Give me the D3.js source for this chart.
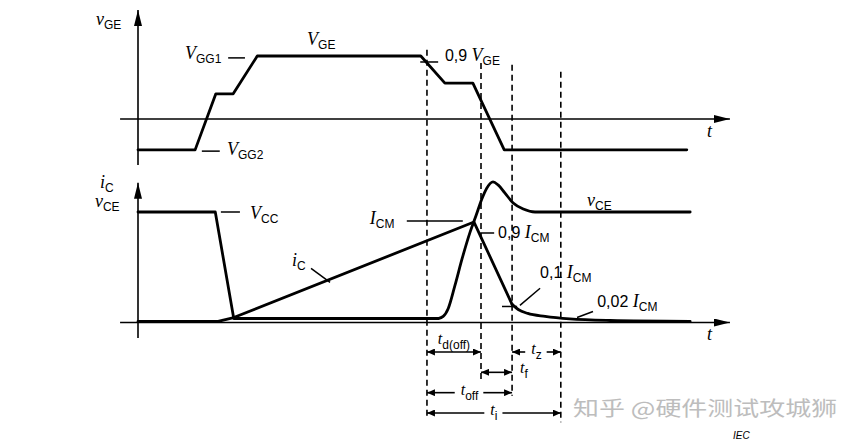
<!DOCTYPE html>
<html>
<head>
<meta charset="utf-8">
<script src="https://cdn.jsdelivr.net/npm/d3@7"></script>
<style>
  html, body { margin: 0; padding: 0; background: #fff; }
  svg { display: block; }
</style>
</head>
<body>
<div id="chart"></div>
<script>
// gate voltage v_GE (top panel), time in arbitrary units, value relative to V_GG1
const vgeTime  = [0, 10.2, 13.9, 17.0, 21.3, 50.5, 54.8, 59.8, 65.4, 98.0];
const vgeValue = [-0.49, -0.49, 0.40, 0.40, 1, 1, 0.57, 0.57, -0.49, -0.49];

// collector-emitter voltage v_CE (bottom panel), relative to V_CC
const vceFallTime  = [0, 13.8, 17.1, 53.6];
const vceFallValue = [1, 1, 0.036, 0.036];
const vceRiseTime  = [53.6, 54.5, 55.4, 56.6, 57.9, 59.3, 60.4, 61.4, 62.3, 63.4, 64.3, 65.5, 67.0, 68.8, 70.9, 98.6];
const vceRiseValue = [0.036, 0.055, 0.127, 0.336, 0.582, 0.818, 0.973, 1.118, 1.218, 1.273, 1.245, 1.173, 1.082, 1.027, 1.0, 1.0];

// collector current i_C
const icRampTime  = [0, 14.3, 17.1, 60.0, 66.8];
const icRampValue = [0.01, 0.01, 0.045, 0.909, 0.164];
const icTailTime  = [66.8, 67.9, 69.6, 72.7, 77.1, 84.3, 98.6];
const icTailValue = [0.164, 0.118, 0.082, 0.055, 0.032, 0.018, 0.01];

// switching instants (dashed verticals): top end in v_GE units, bottom end in timing rows
const edgeTime   = [51.6, 61.25, 66.8, 75.5];
const edgeTop    = [1.1, 0.89, 0.86, 0.75];
const edgeBottom = [3.3, 1.5, 2.15, 3.45];

// timing intervals: from edge, to edge, row, subscript, label placement
const spanFrom  = [0, 2, 1, 0, 0];
const spanTo    = [1, 3, 2, 2, 3];
const spanRow   = [0, 0, 1, 2, 3];
const spanSub   = ['d(off)', 'z', 'f', 'off', 'i'];
const spanPlace = ['above', 'gap', 'right', 'gap', 'gap'];

// labels: panel, time, value, numeric prefix, symbol, subscript
const labelPanel = ['top', 'top', 'top', 'top', 'top', 'top',
                    'bot', 'bot', 'bot', 'bot', 'bot', 'bot', 'bot', 'bot', 'bot', 'bot'];
const labelTime  = [-7.5, 30.2, 8.4, 15.9, 54.8, 101.6,
                    -6.8, -7.7, 20.0, 41.4, 27.5, 64.3, 80.2, 71.8, 82.0, 101.6];
const labelValue = [1.49, 1.17, 0.95, -0.57, 0.92, -0.29,
                    1.22, 1.045, 0.936, 0.89, 0.51, 0.764, 1.055, 0.40, 0.136, -0.16];
const labelPre   = ['', '', '', '', '0,9 ', '',
                    '', '', '', '', '', '0,9 ', '', '0,1 ', '0,02 ', ''];
const labelSym   = ['v', 'V', 'V', 'V', 'V', 't',
                    'i', 'v', 'V', 'I', 'i', 'I', 'v', 'I', 'I', 't'];
const labelSub   = ['GE', 'GE', 'GG1', 'GG2', 'GE', '',
                    'C', 'CE', 'CC', 'CM', 'C', 'CM', 'CE', 'CM', 'CM', ''];

// leader lines: panel, start (time, value), end (time, value)
const leadPanel = ['top', 'top', 'top', 'bot', 'bot', 'bot', 'bot', 'bot', 'bot'];
const leadT1 = [16.1, 11.4, 50.4, 14.8, 48.0, 30.9, 61.1, 68.2, 78.4];
const leadV1 = [0.97, -0.51, 0.905, 1.0, 0.918, 0.49, 0.81, 0.155, 0.045];
const leadT2 = [19.1, 14.6, 53.6, 18.2, 58.0, 34.3, 63.6, 71.8, 81.25];
const leadV2 = [0.97, -0.51, 0.905, 1.0, 0.918, 0.364, 0.81, 0.31, 0.10];
const tickT1 = [65.0], tickT2 = [67.7], tickV = [0.145];

const width = 854, height = 448;
const svg = d3.select('#chart').append('svg')
    .attr('width', width)
    .attr('height', height);

let xT = d3.scaleLinear().domain([0, 100]).range([138, 698]);
let yTop = d3.scaleLinear().domain([0, 1]).range([119, 56]);
let yBot = d3.scaleLinear().domain([0, 1]).range([322.5, 212]);
let yRow = d3.scaleLinear().domain([0, 3]).range([352, 413]);
const yOf = p => p === 'top' ? yTop : yBot;

const SERIF = '"Liberation Serif", "DejaVu Serif", serif';
const SANS = '"Liberation Sans", Arial, sans-serif';

let defs = svg.append('defs');
defs.append('marker')
    .attr('id', 'axisArrow')
    .attr('viewBox', '0 0 16 8')
    .attr('refX', 16).attr('refY', 4)
    .attr('markerWidth', 16).attr('markerHeight', 8)
    .attr('markerUnits', 'userSpaceOnUse')
    .attr('orient', 'auto')
    .append('path').attr('d', 'M0,0L16,4L0,8Z').attr('fill', '#000');
defs.append('marker')
    .attr('id', 'dimArrow')
    .attr('viewBox', '0 0 8 7')
    .attr('refX', 8).attr('refY', 3.5)
    .attr('markerWidth', 8).attr('markerHeight', 7)
    .attr('markerUnits', 'userSpaceOnUse')
    .attr('orient', 'auto-start-reverse')
    .append('path').attr('d', 'M0,0L8,3.5L0,7Z').attr('fill', '#000');

// watermark sits behind everything
svg.append('text')
    .attr('x', xT(77.7))
    .attr('y', yRow(3.15))
    .attr('font-family', '"Noto Sans CJK SC", sans-serif')
    .attr('font-size', 20)
    .attr('textLength', 264)
    .attr('lengthAdjust', 'spacingAndGlyphs')
    .attr('fill', '#bdbdbd')
    .text('知乎 @硬件测试攻城狮');

// axes
function axisPair(yScale, vMin, vMax) {
    svg.append('line')
        .attr('x1', xT(-3.2)).attr('x2', xT(105.7))
        .attr('y1', yScale(0)).attr('y2', yScale(0))
        .attr('stroke', '#000').attr('stroke-width', 1.6)
        .attr('marker-end', 'url(#axisArrow)');
    svg.append('line')
        .attr('x1', xT(0)).attr('x2', xT(0))
        .attr('y1', yScale(vMin)).attr('y2', yScale(vMax))
        .attr('stroke', '#000').attr('stroke-width', 1.6)
        .attr('marker-end', 'url(#axisArrow)');
}
axisPair(yTop, -0.73, 1.73);
axisPair(yBot, -0.14, 1.264);

// dashed switching instants
svg.append('g').selectAll('line')
    .data(edgeTime)
    .enter()
    .append('line')
    .attr('x1', d => xT(d)).attr('x2', d => xT(d))
    .attr('y1', (d, i) => yTop(edgeTop[i]))
    .attr('y2', (d, i) => yRow(edgeBottom[i]))
    .attr('stroke', '#000').attr('stroke-width', 1.6)
    .attr('stroke-dasharray', '6,4');

// waveforms
function wave(times, values, yScale, curve) {
    let pts = times.map((t, i) => [t, values[i]]);
    let line = d3.line()
        .x(d => xT(d[0]))
        .y(d => yScale(d[1]))
        .curve(curve);
    svg.append('path')
        .attr('d', line(pts))
        .attr('fill', 'none')
        .attr('stroke', '#000')
        .attr('stroke-width', 2.8)
        .attr('stroke-linejoin', 'round')
        .attr('stroke-linecap', 'round');
}
wave(vgeTime, vgeValue, yTop, d3.curveLinear);
wave(vceFallTime, vceFallValue, yBot, d3.curveLinear);
wave(vceRiseTime, vceRiseValue, yBot, d3.curveMonotoneX);
wave(icRampTime, icRampValue, yBot, d3.curveLinear);
wave(icTailTime, icTailValue, yBot, d3.curveMonotoneX);

// leader lines
leadPanel.forEach((p, i) => {
    let ys = yOf(p);
    svg.append('line')
        .attr('x1', xT(leadT1[i])).attr('y1', ys(leadV1[i]))
        .attr('x2', xT(leadT2[i])).attr('y2', ys(leadV2[i]))
        .attr('stroke', '#000').attr('stroke-width', 1.5);
});
tickT1.forEach((t, i) => {
    svg.append('line')
        .attr('x1', xT(t)).attr('x2', xT(tickT2[i]))
        .attr('y1', yBot(tickV[i])).attr('y2', yBot(tickV[i]))
        .attr('stroke', '#000').attr('stroke-width', 1.5);
});

// symbol labels: optional number, italic symbol, sans subscript
function symbol(text, pre, sym, sub, symSize, subSize, subDy) {
    if (pre) {
        text.append('tspan')
            .attr('font-family', SANS).attr('font-size', 16)
            .text(pre.trim() + '\u00a0');
    }
    text.append('tspan')
        .attr('font-family', SERIF).attr('font-style', 'italic')
        .attr('font-size', symSize)
        .text(sym);
    if (sub) {
        text.append('tspan')
            .attr('font-family', SANS).attr('font-size', subSize)
            .attr('dy', subDy)
            .text(sub);
    }
}

labelPanel.forEach((p, i) => {
    let ys = yOf(p);
    let t = svg.append('text')
        .attr('x', xT(labelTime[i]))
        .attr('y', ys(labelValue[i]))
        .attr('fill', '#000');
    symbol(t, labelPre[i], labelSym[i], labelSub[i], 18, 12, 4);
});

// timing intervals
spanFrom.forEach((f, i) => {
    let x0 = xT(edgeTime[f]);
    let x1 = xT(edgeTime[spanTo[i]]);
    let y = yRow(spanRow[i]);
    let mid = (x0 + x1) / 2;
    let label = svg.append('text').attr('fill', '#000');
    symbol(label, '', 't', spanSub[i], 16, 12, 5);

    if (spanPlace[i] === 'gap') {
        label.attr('x', mid).attr('y', y + 2).attr('text-anchor', 'middle');
        let w = label.node().getComputedTextLength();
        svg.append('line')
            .attr('x1', mid - w / 2 - 6).attr('x2', x0)
            .attr('y1', y).attr('y2', y)
            .attr('stroke', '#000').attr('stroke-width', 1.6)
            .attr('marker-end', 'url(#dimArrow)');
        svg.append('line')
            .attr('x1', mid + w / 2 + 5).attr('x2', x1)
            .attr('y1', y).attr('y2', y)
            .attr('stroke', '#000').attr('stroke-width', 1.6)
            .attr('marker-end', 'url(#dimArrow)');
    } else {
        svg.append('line')
            .attr('x1', x0).attr('x2', x1)
            .attr('y1', y).attr('y2', y)
            .attr('stroke', '#000').attr('stroke-width', 1.6)
            .attr('marker-start', 'url(#dimArrow)')
            .attr('marker-end', 'url(#dimArrow)');
        if (spanPlace[i] === 'above') {
            label.attr('x', mid).attr('y', y - 8).attr('text-anchor', 'middle');
        } else {
            label.attr('x', x1 + 8).attr('y', y + 1);
        }
    }
});

svg.append('text')
    .attr('x', xT(106.25))
    .attr('y', yRow(4.28))
    .attr('font-family', SANS)
    .attr('font-style', 'italic')
    .attr('font-size', 10)
    .attr('fill', '#000')
    .text('IEC');
</script>
</body>
</html>
